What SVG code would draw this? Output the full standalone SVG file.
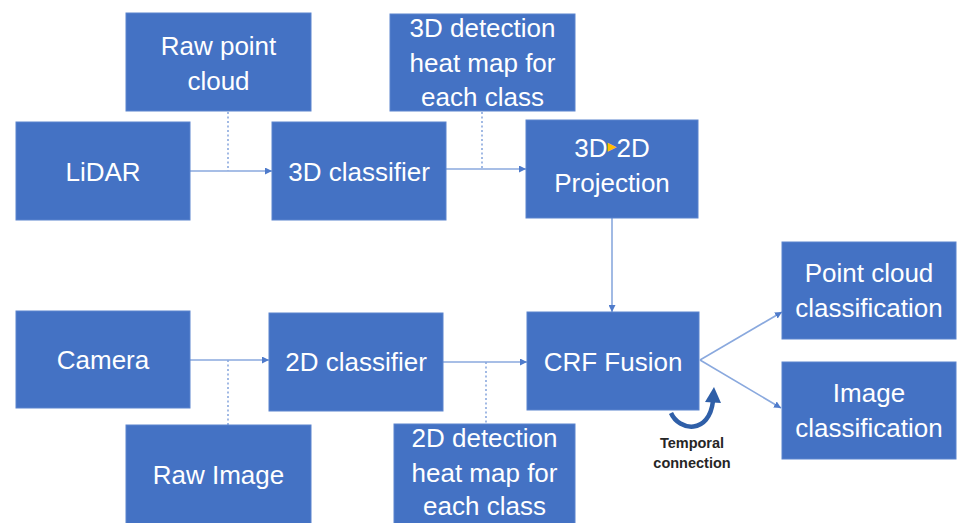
<svg xmlns="http://www.w3.org/2000/svg" width="963" height="523" viewBox="0 0 963 523">
<defs>
<style>
.box{fill:#4472C4;stroke:#5B84CE;stroke-width:1}
.t{fill:#ffffff;font-family:"Liberation Sans",Arial,sans-serif;font-size:26px;text-anchor:middle}
.ln{stroke:#8AA9DE;stroke-width:1.6;fill:none}
.dot{stroke:#8AA9DE;stroke-width:1.6;fill:none;stroke-dasharray:2 2.5}
.lab{fill:#262626;font-family:"Liberation Sans",Arial,sans-serif;font-size:14.5px;font-weight:bold;text-anchor:middle}
</style>
<marker id="ah" viewBox="0 0 10 10" refX="10" refY="5" markerWidth="7" markerHeight="7" markerUnits="userSpaceOnUse" orient="auto">
<path d="M0,0 L10,5 L0,10 z" fill="#4F7BCB"/>
</marker>
</defs>
<rect width="963" height="523" fill="#ffffff"/>

<g id="connectors">
<line class="dot" x1="228" y1="112" x2="228" y2="171"/>
<line class="ln" x1="190" y1="171" x2="272" y2="171" marker-end="url(#ah)"/>
<line class="dot" x1="482" y1="112" x2="482" y2="169"/>
<line class="ln" x1="446" y1="169" x2="526" y2="169" marker-end="url(#ah)"/>
<line class="ln" x1="612" y1="218" x2="612" y2="312" marker-end="url(#ah)"/>
<line class="dot" x1="228" y1="360" x2="228" y2="425"/>
<line class="ln" x1="190" y1="360" x2="269" y2="360" marker-end="url(#ah)"/>
<line class="dot" x1="486" y1="362" x2="486" y2="424"/>
<line class="ln" x1="443" y1="362" x2="527" y2="362" marker-end="url(#ah)"/>
<line class="ln" x1="700" y1="360" x2="782" y2="312" marker-end="url(#ah)"/>
<line class="ln" x1="700" y1="360" x2="781" y2="408" marker-end="url(#ah)"/>
<g id="temporal">
<path d="M671,413 C679,431 709,435 713,401" fill="none" stroke="#2F5FA8" stroke-width="4.5"/>
<path d="M705,402 L714,387 L721,403 z" fill="#2F5FA8"/>
</g>
</g>

<g id="raw-point-cloud"><rect class="box" x="126" y="13" width="185" height="98"/><text class="t" x="218.5" y="55">Raw point</text><text class="t" x="218.5" y="90">cloud</text></g>
<g id="lidar"><rect class="box" x="16" y="122" width="174" height="98"/><text class="t" x="103" y="181">LiDAR</text></g>
<g id="classifier-3d"><rect class="box" x="272" y="122" width="174" height="98"/><text class="t" x="359" y="181">3D classifier</text></g>
<g id="heatmap-3d"><rect class="box" x="390" y="14" width="185" height="97"/><text class="t" x="482.5" y="37">3D detection</text><text class="t" x="482.5" y="72">heat map for</text><text class="t" x="482.5" y="106">each class</text></g>
<g id="projection"><rect class="box" x="526" y="120" width="172" height="98"/><text class="t" x="612" y="157">3D<tspan fill="#FFC000" font-family="'DejaVu Sans',sans-serif" font-size="18" dy="-5">▸</tspan><tspan dy="5">2D</tspan></text><text class="t" x="612" y="192">Projection</text></g>
<g id="camera"><rect class="box" x="16" y="311" width="174" height="97"/><text class="t" x="103" y="369">Camera</text></g>
<g id="classifier-2d"><rect class="box" x="269" y="313" width="174" height="98"/><text class="t" x="356" y="371">2D classifier</text></g>
<g id="crf-fusion"><rect class="box" x="527" y="312" width="172" height="98"/><text class="t" x="613" y="371">CRF Fusion</text></g>
<g id="raw-image"><rect class="box" x="126" y="425" width="185" height="99"/><text class="t" x="218.5" y="484">Raw Image</text></g>
<g id="heatmap-2d"><rect class="box" x="394" y="424" width="181" height="100"/><text class="t" x="484.5" y="447">2D detection</text><text class="t" x="484.5" y="482">heat map for</text><text class="t" x="484.5" y="515">each class</text></g>
<g id="point-cloud-classification"><rect class="box" x="782" y="242" width="174" height="97"/><text class="t" x="869" y="282">Point cloud</text><text class="t" x="869" y="317">classification</text></g>
<g id="image-classification"><rect class="box" x="782" y="362" width="174" height="97"/><text class="t" x="869" y="402">Image</text><text class="t" x="869" y="437">classification</text></g>
<g id="temporal-label"><text class="lab" x="692" y="448">Temporal</text><text class="lab" x="692" y="468">connection</text></g>
</svg>
